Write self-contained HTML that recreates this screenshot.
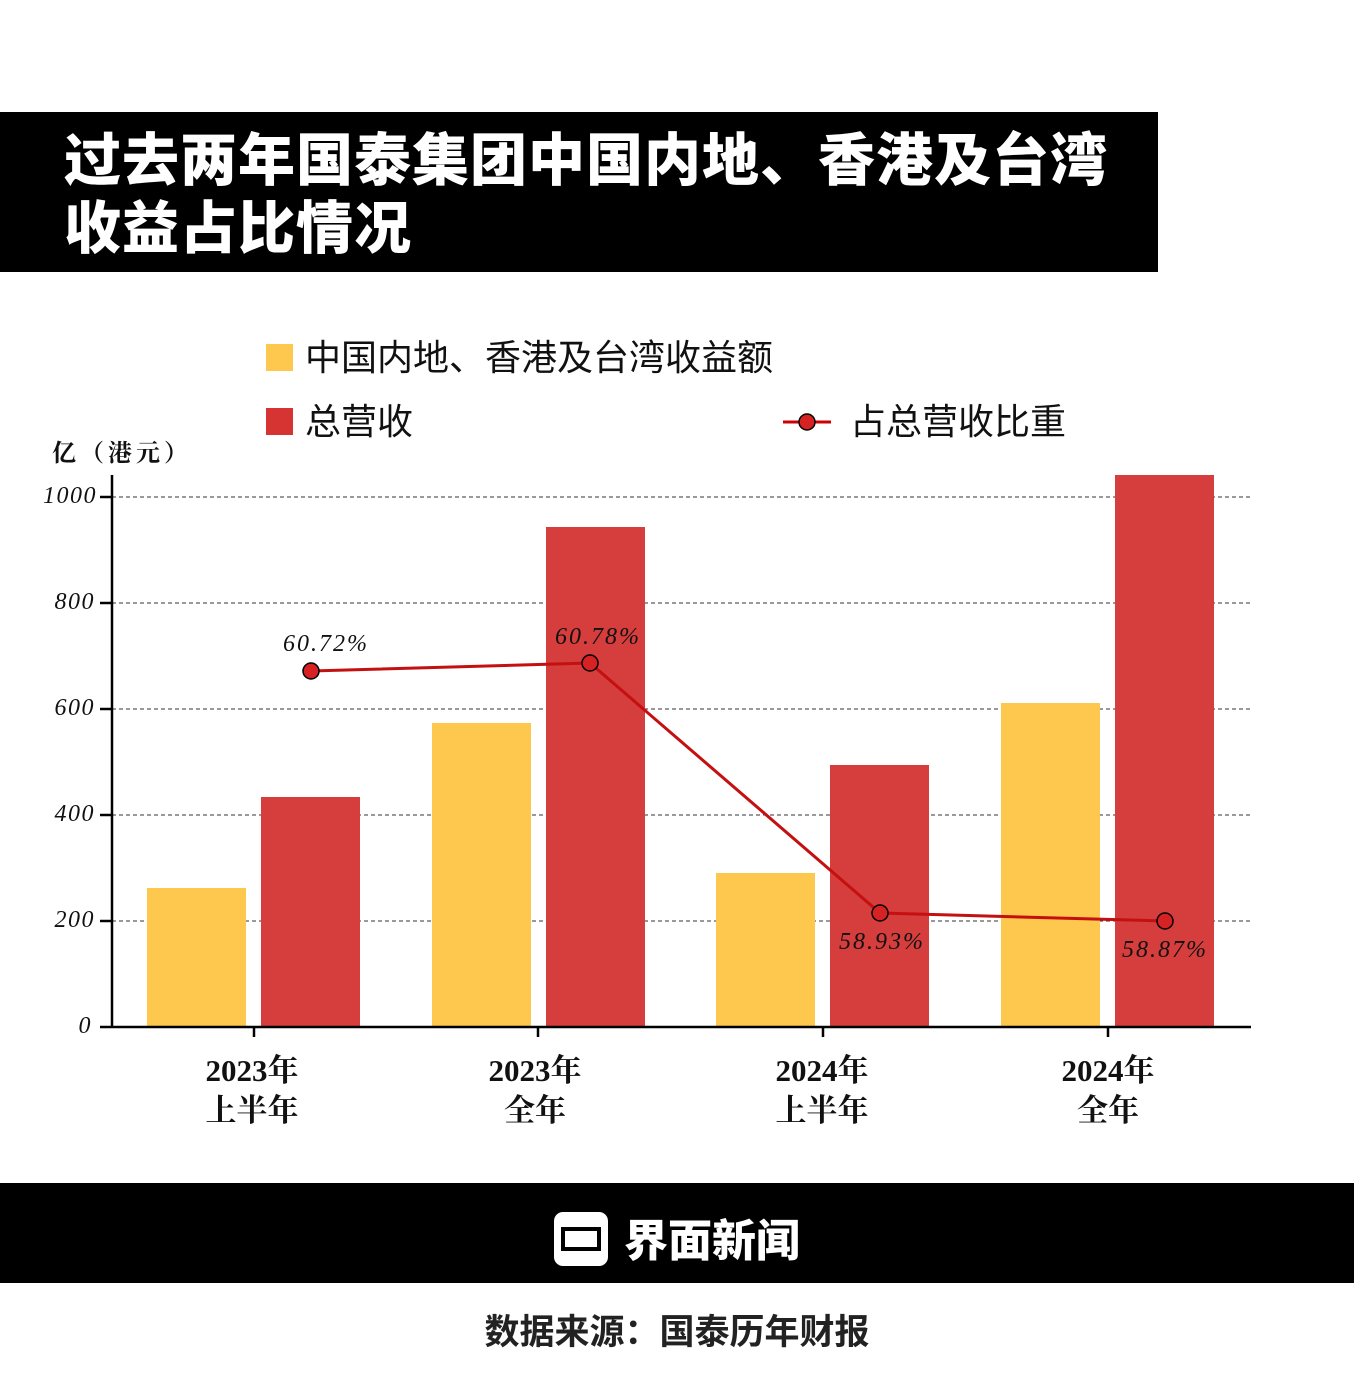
<!DOCTYPE html>
<html><head><meta charset="utf-8"><style>
body{margin:0;width:1354px;height:1400px;background:#fff;overflow:hidden;position:relative;font-family:"Liberation Sans","Noto Sans CJK SC",sans-serif}
.t{position:absolute;left:0;top:112px;width:1158px;height:160px;background:#000;color:#fff;font-family:"Noto Sans CJK SC",sans-serif;font-weight:900;font-size:57px;line-height:68px;box-sizing:border-box;padding:10px 0 0 64px;letter-spacing:1px}
</style></head><body>
<div class="t">过去两年国泰集团中国内地、香港及台湾<br>收益占比情况</div>
<svg width="1354" height="1400" style="position:absolute;left:0;top:0">
<g font-family="Noto Sans CJK SC,sans-serif" font-size="36" fill="#111">
<rect x="266" y="344" width="27" height="27" fill="#fec84e"/>
<text x="305" y="370">中国内地、香港及台湾收益额</text>
<rect x="266" y="408" width="27" height="27" fill="#d63333"/>
<text x="305" y="434">总营收</text>
<line x1="783" y1="422" x2="831" y2="422" stroke="#c00" stroke-width="3"/>
<circle cx="807" cy="422" r="8" fill="#d62222" stroke="#000" stroke-width="1.5"/>
<text x="850" y="434">占总营收比重</text>
</g>
<text x="52" y="461" font-family="Noto Serif CJK SC,serif" font-weight="bold" font-size="24" fill="#111" letter-spacing="4">亿（港元）</text>
<g stroke="#333" stroke-dasharray="4,3" stroke-width="1">
<line x1="112" y1="497" x2="1250" y2="497"/><line x1="112" y1="603" x2="1250" y2="603"/>
<line x1="112" y1="709" x2="1250" y2="709"/><line x1="112" y1="815" x2="1250" y2="815"/>
<line x1="112" y1="921" x2="1250" y2="921"/></g>
<g fill="#fec84e"><rect x="147" y="888" width="99" height="139"/><rect x="432" y="723" width="99" height="304"/><rect x="716" y="873" width="99" height="154"/><rect x="1001" y="703" width="99" height="324"/></g>
<g fill="#d63d3d"><rect x="261" y="797" width="99" height="230"/><rect x="546" y="527" width="99" height="500"/><rect x="830" y="765" width="99" height="262"/><rect x="1115" y="475" width="99" height="552"/></g>
<g stroke="#000" stroke-width="2.5"><line x1="112" y1="475" x2="112" y2="1027"/><line x1="100" y1="1027" x2="1251" y2="1027"/>
<line x1="100" y1="497" x2="112" y2="497"/><line x1="100" y1="603" x2="112" y2="603"/><line x1="100" y1="709" x2="112" y2="709"/><line x1="100" y1="815" x2="112" y2="815"/><line x1="100" y1="921" x2="112" y2="921"/>
<line x1="254" y1="1027" x2="254" y2="1037"/><line x1="538" y1="1027" x2="538" y2="1037"/><line x1="823" y1="1027" x2="823" y2="1037"/><line x1="1108" y1="1027" x2="1108" y2="1037"/></g>
<g font-family="Liberation Serif,serif" font-style="italic" font-size="24" fill="#111" text-anchor="end" letter-spacing="1.5">
<text x="97" y="503">1000</text><text x="95" y="609">800</text><text x="95" y="715">600</text><text x="95" y="821">400</text><text x="95" y="927">200</text><text x="92" y="1033">0</text></g>
<polyline points="311,671 590,663 880,913 1165,921" fill="none" stroke="#c41010" stroke-width="3"/>
<g fill="#d62222" stroke="#000" stroke-width="1.5"><circle cx="311" cy="671" r="8"/><circle cx="590" cy="663" r="8"/><circle cx="880" cy="913" r="8"/><circle cx="1165" cy="921" r="8"/></g>
<g font-family="Liberation Serif,serif" font-style="italic" font-size="24" fill="#111" text-anchor="middle" letter-spacing="2">
<text x="326" y="651">60.72%</text><text x="598" y="644">60.78%</text><text x="882" y="949">58.93%</text><text x="1165" y="957">58.87%</text></g>
<g font-family="Liberation Serif,Noto Serif CJK SC,serif" font-weight="bold" font-size="31" fill="#111" text-anchor="middle">
<text x="252" y="1081">2023年</text><text x="252" y="1121">上半年</text>
<text x="535" y="1081">2023年</text><text x="535" y="1121">全年</text>
<text x="822" y="1081">2024年</text><text x="822" y="1121">上半年</text>
<text x="1108" y="1081">2024年</text><text x="1108" y="1121">全年</text></g>
<rect x="0" y="1183" width="1354" height="100" fill="#000"/>
<rect x="554" y="1212" width="54" height="54" rx="9" fill="#fff"/>
<rect x="563" y="1229" width="36" height="20" fill="none" stroke="#000" stroke-width="4"/>
<text x="624" y="1256" font-family="Noto Sans CJK SC,sans-serif" font-weight="900" font-size="44" fill="#fff">界面新闻</text>
<text x="677" y="1344" text-anchor="middle" font-family="Noto Sans CJK SC,sans-serif" font-weight="bold" font-size="35" fill="#222">数据来源：国泰历年财报</text>
</svg>
</body></html>
